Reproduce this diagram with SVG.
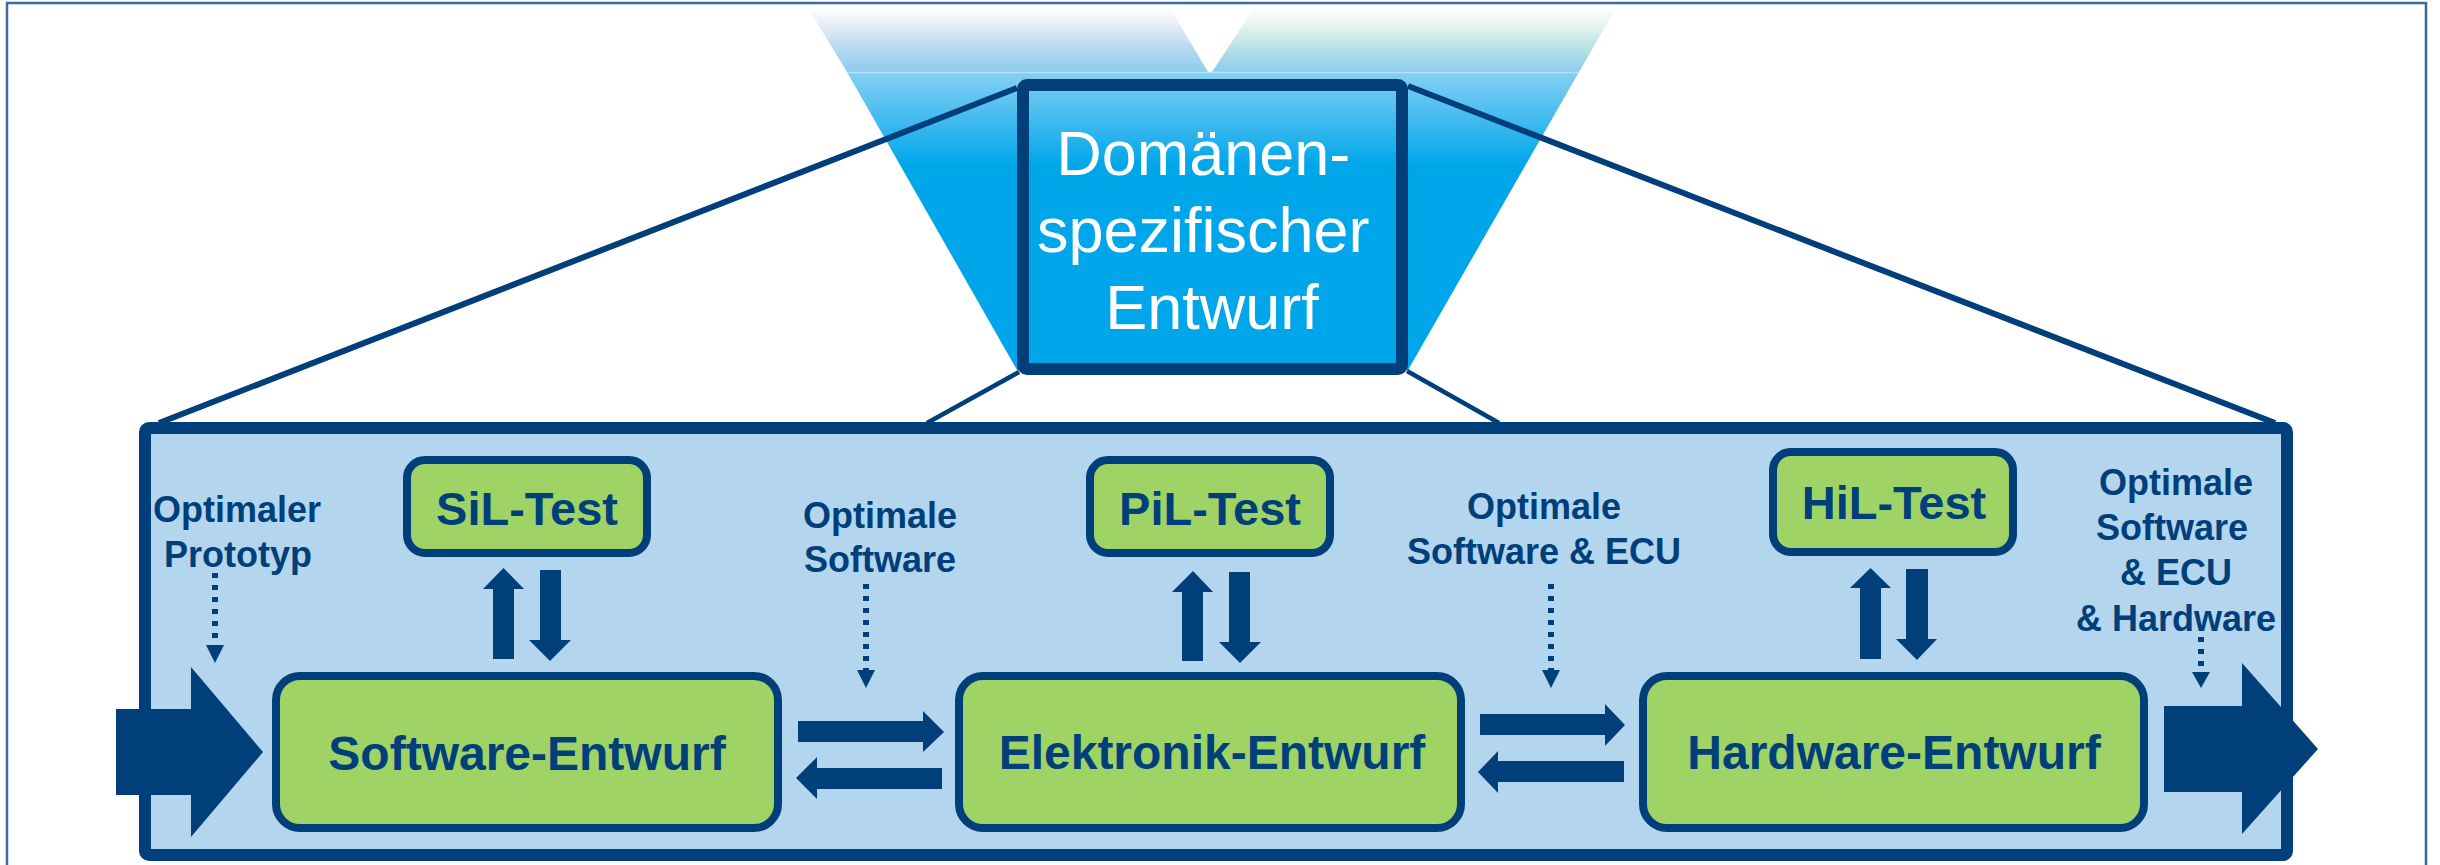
<svg xmlns="http://www.w3.org/2000/svg" width="2440" height="865" viewBox="0 0 2440 865">
<defs>
<linearGradient id="beam" gradientUnits="userSpaceOnUse" x1="0" y1="72" x2="0" y2="165">
<stop offset="0" stop-color="#86d0f3"/>
<stop offset="1" stop-color="#00a6ea"/>
</linearGradient>
<linearGradient id="topL" gradientUnits="userSpaceOnUse" x1="0" y1="8" x2="0" y2="72">
<stop offset="0" stop-color="#ffffff"/>
<stop offset="0.3" stop-color="#e2ebf4"/>
<stop offset="0.65" stop-color="#b6d8ee"/>
<stop offset="1" stop-color="#8bcdf1"/>
</linearGradient>
<linearGradient id="topR" gradientUnits="userSpaceOnUse" x1="0" y1="8" x2="0" y2="72">
<stop offset="0" stop-color="#ffffff"/>
<stop offset="0.3" stop-color="#e3f2ec"/>
<stop offset="0.65" stop-color="#b5e0e4"/>
<stop offset="1" stop-color="#8bcdf0"/>
</linearGradient>
<style>
.navy{fill:#003f7a}
.ln{stroke:#003f7a;fill:none}
.green{fill:#9fd366;stroke:#003f7a;stroke-width:8}
.lbl{font-family:"Liberation Sans",Arial,sans-serif;font-weight:bold;fill:#003f7a;text-anchor:middle}
.big{font-size:48px}
.small{font-size:36px}
.dot{stroke:#003f7a;stroke-width:6;stroke-dasharray:5 7;fill:none}
</style>
</defs>
<rect width="2440" height="865" fill="#ffffff"/>
<path d="M7,870 V3 H2426 V870" fill="none" stroke="#3b6aa1" stroke-width="2.5"/>

<g id="beam-shape">
<polygon points="808,8 1170,8 1208,72 847,72" fill="url(#topL)"/>
<polygon points="1254,8 1616,8 1579,72 1212,72" fill="url(#topR)"/>
<polygon points="847,72 1579,72 1408,370 1017,370" fill="url(#beam)"/>
<line x1="847" y1="72.5" x2="1579" y2="72.5" stroke="#b6e2f7" stroke-width="1.5"/>
</g>

<g id="connectors">
<line class="ln" x1="1017" y1="88" x2="159" y2="423" stroke-width="6"/>
<line class="ln" x1="1408" y1="86" x2="2275" y2="423" stroke-width="6"/>
<line class="ln" x1="1019" y1="372" x2="927" y2="423" stroke-width="4.5"/>
<line class="ln" x1="1407" y1="371" x2="1499" y2="423" stroke-width="4.5"/>
</g>

<g id="domain">
<rect x="1023" y="85" width="379" height="284" rx="4" fill="url(#beam)" stroke="#003f7a" stroke-width="12"/>
<text font-family="'Liberation Sans',Arial,sans-serif" font-size="63" fill="#ffffff" text-anchor="middle">
<tspan x="1212" y="175">Domänen-</tspan>
<tspan x="1212" y="252">spezifischer</tspan>
<tspan x="1212" y="329">Entwurf</tspan>
</text>
</g>

<g id="panel">
<rect x="145" y="428" width="2142" height="427" rx="4" fill="#b3d5ee" stroke="#003f7a" stroke-width="12"/>
</g>

<g id="arrows">
<polygon class="navy" points="116,709 191,709 191,667 263,752 191,837 191,795 116,795"/>
<polygon class="navy" points="2164,706 2242,706 2242,663 2318,749 2242,834 2242,792 2164,792"/>
<polygon class="navy" points="493,659 493,589 483,589 503.5,568 524,589 514,589 514,659"/>
<polygon class="navy" points="540,570 561,570 561,640 571,640 550,661 529,640 540,640"/>
<polygon class="navy" points="1182,661 1182,592 1172,592 1193,571 1213,592 1203,592 1203,661"/>
<polygon class="navy" points="1229,572 1250,572 1250,642 1261,642 1240,663 1219,642 1229,642"/>
<polygon class="navy" points="1860,659 1860,588 1850,588 1870.5,568 1891,588 1881,588 1881,659"/>
<polygon class="navy" points="1906,569 1928,569 1928,639 1937,639 1917,660 1896,639 1906,639"/>
<polygon class="navy" points="798,721 923,721 923,711 944,732 923,752 923,742 798,742"/>
<polygon class="navy" points="942,768 817,768 817,757 796,778 817,799 817,789 942,789"/>
<polygon class="navy" points="1480,714 1605,714 1605,704 1625,725 1605,746 1605,735 1480,735"/>
<polygon class="navy" points="1624,761 1498,761 1498,751 1478,772 1498,793 1498,782 1624,782"/>
<line class="dot" x1="215" y1="573" x2="215" y2="645"/>
<polygon class="navy" points="206,645 224,645 215,663"/>
<line class="dot" x1="866" y1="584" x2="866" y2="670"/>
<polygon class="navy" points="857,670 875,670 866,688"/>
<line class="dot" x1="1551" y1="584" x2="1551" y2="670"/>
<polygon class="navy" points="1542,670 1560,670 1551,688"/>
<line class="dot" x1="2201" y1="637" x2="2201" y2="672"/>
<polygon class="navy" points="2192,672 2210,672 2201,688"/>
</g>

<g id="sil">
<rect class="green" x="407" y="460" width="240" height="93" rx="18"/>
<text class="lbl" x="527" y="525" font-size="47">SiL-Test</text>
</g>
<g id="pil">
<rect class="green" x="1090" y="460" width="240" height="93" rx="18"/>
<text class="lbl" x="1210" y="525" font-size="47">PiL-Test</text>
</g>
<g id="hil">
<rect class="green" x="1773" y="452" width="240" height="100" rx="18"/>
<text class="lbl" x="1894" y="519" font-size="47">HiL-Test</text>
</g>

<g id="software">
<rect class="green" x="276" y="676" width="502" height="152" rx="24"/>
<text class="lbl big" x="527" y="770">Software-Entwurf</text>
</g>
<g id="elektronik">
<rect class="green" x="959" y="676" width="502" height="152" rx="24"/>
<text class="lbl big" x="1212" y="769">Elektronik-Entwurf</text>
</g>
<g id="hardware">
<rect class="green" x="1643" y="676" width="501" height="152" rx="24"/>
<text class="lbl big" x="1894" y="769">Hardware-Entwurf</text>
</g>

<g id="labels">
<text class="lbl small"><tspan x="237" y="522">Optimaler</tspan><tspan x="238" y="567">Prototyp</tspan></text>
<text class="lbl small"><tspan x="880" y="528">Optimale</tspan><tspan x="880" y="572">Software</tspan></text>
<text class="lbl small"><tspan x="1544" y="519">Optimale</tspan><tspan x="1544" y="564">Software &amp; ECU</tspan></text>
<text class="lbl small"><tspan x="2176" y="495">Optimale</tspan><tspan x="2172" y="540">Software</tspan><tspan x="2176" y="585">&amp; ECU</tspan><tspan x="2176" y="631">&amp; Hardware</tspan></text>
</g>
</svg>
